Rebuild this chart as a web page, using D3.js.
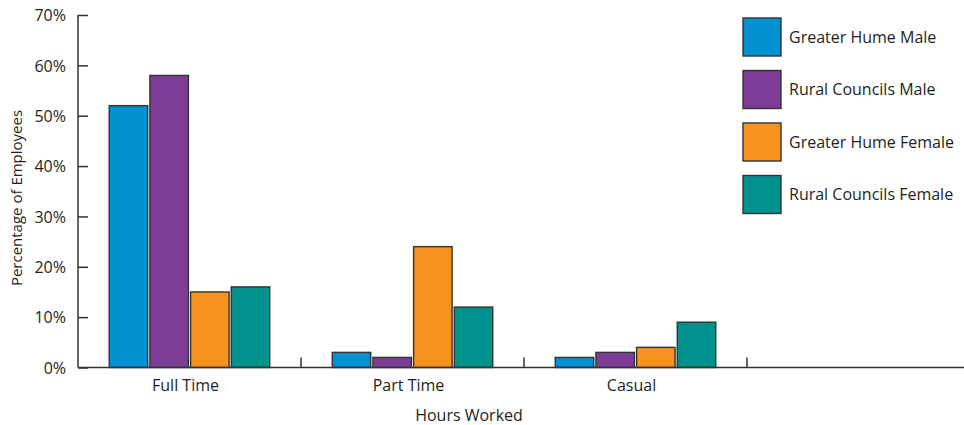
<!DOCTYPE html>
<html>
<head>
<meta charset="utf-8">
<script src="https://cdnjs.cloudflare.com/ajax/libs/d3/7.8.5/d3.min.js"></script>
<style>
  html, body { margin: 0; padding: 0; background: #fff; }
  svg { display: block; }
  text { font-family: "Open Sans", "Noto Sans", sans-serif; fill: #231f20; }
</style>
</head>
<body>
<svg id="chart" width="964" height="425"></svg>
<script>
// Employment by hours worked, % of employees
const categories = ["Full Time", "Part Time", "Casual", ""];
const seriesNames = ["Greater Hume Male", "Rural Councils Male", "Greater Hume Female", "Rural Councils Female"];
const greaterHumeMale = [52, 3, 2];
const ruralCouncilsMale = [58, 2, 3];
const greaterHumeFemale = [15, 24, 4];
const ruralCouncilsFemale = [16, 12, 9];
const yTicks = [0, 10, 20, 30, 40, 50, 60, 70];
const colors = ["#0291d0", "#7d3c96", "#f6921e", "#00918c"];

const seriesValues = [greaterHumeMale, ruralCouncilsMale, greaterHumeFemale, ruralCouncilsFemale];

const svg = d3.select("#chart");
const left = 78, bandW = 223;
const x = d3.scaleBand().domain(categories).range([left, left + bandW * categories.length]);
const y = d3.scaleLinear().domain([0, 70]).range([367.5, 15]);
const groupW = 160.5;
const xs = d3.scaleBand().domain(seriesNames).range([0, groupW]).paddingInner(0.054);

// bars
const data = [];
categories.slice(0, 3).forEach((c, ci) => {
  seriesNames.forEach((s, si) => data.push({ c, s, si, v: seriesValues[si][ci] }));
});
svg.append("g").selectAll("rect").data(data).join("rect")
  .attr("x", d => x(d.c) + (x.bandwidth() - groupW) / 2 + xs(d.s))
  .attr("y", d => y(d.v))
  .attr("width", xs.bandwidth())
  .attr("height", d => y(0) - y(d.v))
  .attr("fill", d => colors[d.si])
  .attr("stroke", "#333")
  .attr("stroke-width", 1.4);

// y axis (ticks point inward)
const yAxis = svg.append("g").attr("transform", `translate(${left},0)`)
  .call(d3.axisRight(y).tickValues(yTicks).tickFormat(d => d + "%").tickSize(10).tickPadding(0));
yAxis.select(".domain").attr("stroke", "#333").attr("stroke-width", 1.5).attr("d", `M0,${y(70)}H0V${y(0)}`);
yAxis.selectAll(".tick line").attr("stroke", "#333").attr("stroke-width", 1.5);
yAxis.selectAll(".tick text")
  .attr("x", -12).attr("text-anchor", "end").attr("dy", "0.36em")
  .style("font-size", "16px").style("font-family", "\"Open Sans\", sans-serif").attr("fill", "#231f20");

// x axis (category separators point upward)
const xAxisG = svg.append("g");
xAxisG.append("line")
  .attr("x1", left).attr("x2", 964).attr("y1", y(0)).attr("y2", y(0))
  .attr("stroke", "#333").attr("stroke-width", 1.5);
xAxisG.selectAll("line.sep").data(categories.slice(0, 3)).join("line")
  .attr("class", "sep")
  .attr("x1", d => x(d) + x.bandwidth()).attr("x2", d => x(d) + x.bandwidth())
  .attr("y1", y(0)).attr("y2", y(0) - 10)
  .attr("stroke", "#333").attr("stroke-width", 1.5);
xAxisG.selectAll("text").data(categories.slice(0, 3)).join("text")
  .attr("x", d => x(d) + x.bandwidth() / 2 - 4)
  .attr("y", 391)
  .attr("text-anchor", "middle")
  .style("font-size", "16px")
  .text(d => d);

// axis titles
svg.append("text")
  .attr("x", 469).attr("y", 421).attr("text-anchor", "middle")
  .style("font-size", "16px").text("Hours Worked");
svg.append("text")
  .attr("transform", "translate(22,198) rotate(-90)")
  .attr("text-anchor", "middle")
  .style("font-size", "15px").text("Percentage of Employees");

// legend
const lg = svg.append("g").attr("transform", "translate(743,18)");
const items = lg.selectAll("g").data(seriesNames).join("g")
  .attr("transform", (d, i) => `translate(0,${i * 52.5})`);
items.append("rect")
  .attr("width", 38).attr("height", 38)
  .attr("fill", (d, i) => colors[i])
  .attr("stroke", "#333").attr("stroke-width", 1.4);
items.append("text")
  .attr("x", 46).attr("y", 19).attr("dy", "0.36em")
  .style("font-size", "16px")
  .text(d => d);
</script>
</body>
</html>
